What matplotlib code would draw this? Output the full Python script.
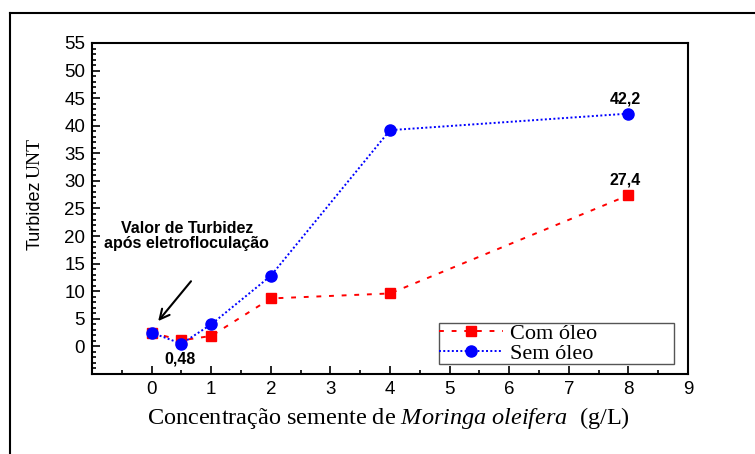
import numpy as np
import matplotlib

matplotlib.use("Agg")

import matplotlib.pyplot as plt
from matplotlib.lines import Line2D
from matplotlib.ticker import MultipleLocator

plt.rcParams["mathtext.fontset"]="custom"
plt.rcParams["mathtext.rm"]="Liberation Serif"
plt.rcParams["mathtext.it"]="Liberation Serif:italic"

conc=[0,0.5,1,2,4,8]

com_oleo=[2.5,1.1,1.9,8.7,9.6,27.4]

sem_oleo=[2.5,0.48,4.0,12.8,39.2,42.2]

x_ticks=[0,1,2,3,4,5,6,7,8,9]

y_ticks=[0,5,10,15,20,25,30,35,40,45,50,55]

fig=plt.figure(figsize=(7.55,4.54),dpi=100)

ax=fig.add_axes([0.1219,0.1762,0.7894,0.7291])

ax.plot(
    conc,
    com_oleo,
    color="#ff0000",
    linestyle=(0,(2.5,4)),
    linewidth=1.4,
    marker="s",
    markersize=7,
    label="Com óleo",
    zorder=3
)

ax.plot(
    conc,
    sem_oleo,
    color="#0000ff",
    linestyle=(0,(1,1.2)),
    linewidth=1.4,
    marker="o",
    markersize=8,
    label="Sem óleo",
    zorder=4
)

ax.set_xlim(-1,9)
ax.set_ylim(-5,55)

ax.set_xticks(x_ticks)
ax.set_yticks(y_ticks)

ax.xaxis.set_minor_locator(MultipleLocator(0.5))
ax.yaxis.set_minor_locator(MultipleLocator(1))

ax.tick_params(
    which="both",
    direction="in",
    top=False,
    right=False,
    labelsize=13.5,
    width=1.2
)

ax.tick_params(which="major",length=6,pad=5)
ax.tick_params(which="minor",length=3)

for lab in ax.get_xticklabels()+ax.get_yticklabels():
    lab.set_fontfamily("Liberation Sans")

for sp in ax.spines.values():
    sp.set_linewidth(1.5)

ax.text(
    0.59,
    20.0,
    "Valor de Turbidez\napós eletrofloculação",
    ha="center",
    va="center",
    fontsize=11.5,
    fontweight="bold",
    family="Liberation Sans",
    linespacing=1.0
)

ax.annotate(
    "",
    xy=(0.08,4.2),
    xytext=(0.69,12.2),
    arrowprops=dict(arrowstyle="->,head_length=0.7,head_width=0.35",color="black",lw=1.5)
)

ax.text(0.47,-2.2,"0,48",ha="center",va="center",fontsize=11.5,fontweight="bold",family="Liberation Sans")

ax.text(7.95,44.8,"42,2",ha="center",va="center",fontsize=11.5,fontweight="bold",family="Liberation Sans")

ax.text(7.95,30.1,"27,4",ha="center",va="center",fontsize=11.5,fontweight="bold",family="Liberation Sans")

leg=ax.legend(
    loc="lower left",
    bbox_to_anchor=(0.582,0.03,0.395,0.124),
    mode="expand",
    prop={"family":"Liberation Serif","size":16},
    handlelength=2.9,
    handletextpad=0.3,
    borderpad=0.0,
    labelspacing=0.0,
    fancybox=False,
    framealpha=1,
    edgecolor="#555555",
    borderaxespad=0
)
leg.get_frame().set_linewidth(1.0)

fig.text(
    0.514,
    0.080,
    r"Concentração semente de $\mathit{Moringa\ oleifera}$  (g/L)",
    ha="center",
    va="center",
    fontsize=17.5,
    family="Liberation Serif"
)

fig.text(0.046,1-215/454,"Turbidez",rotation=90,ha="center",va="center",fontsize=13,family="Liberation Sans")

fig.text(0.046,1-158/454,"UNT",rotation=90,ha="center",va="center",fontsize=14,family="Liberation Serif")

fig.add_artist(Line2D([10/755,10/755],[0,1-13/454],color="black",lw=1.5,transform=fig.transFigure))
fig.add_artist(Line2D([10/755,1],[1-13/454,1-13/454],color="black",lw=1.5,transform=fig.transFigure))

fig.savefig("out.png",dpi=100)
